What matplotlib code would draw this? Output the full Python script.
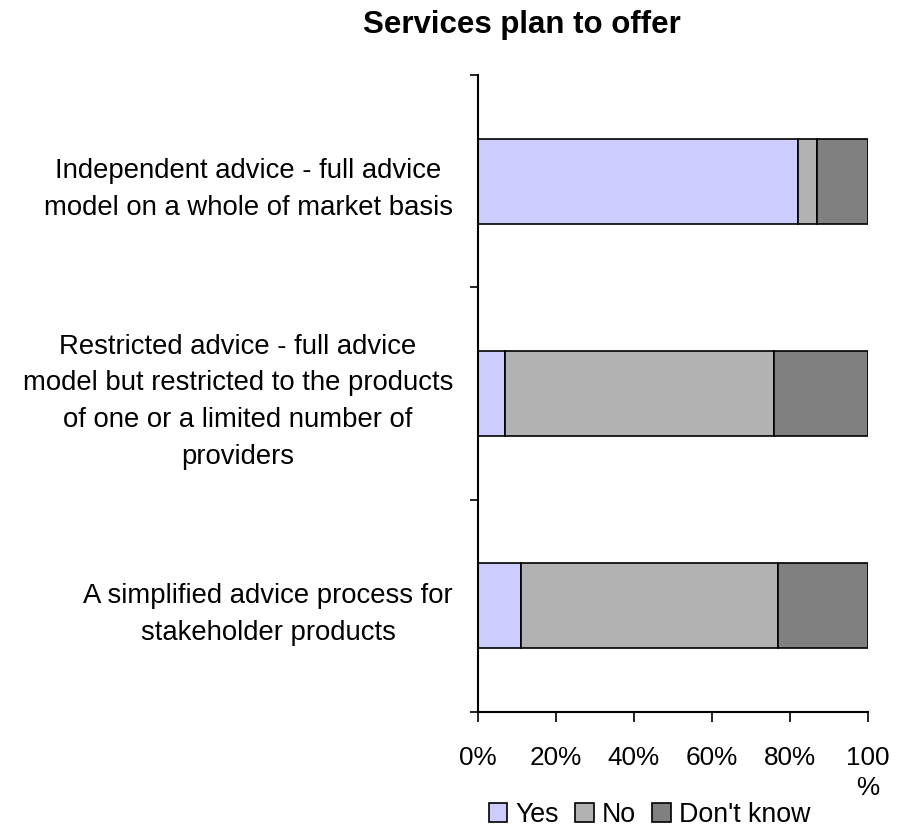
import numpy as np
import matplotlib
matplotlib.use("Agg")
import matplotlib.pyplot as plt

plt.rcParams['font.family'] = ['Liberation Sans', 'DejaVu Sans']

# survey responses, top to bottom
categories = [
    "Independent advice - full advice\nmodel on a whole of market basis",
    "Restricted advice - full advice\nmodel but restricted to the products\nof one or a limited number of\nproviders",
    "A simplified advice process for\nstakeholder products",
]
yes = [82, 7, 11]
no = [5, 69, 66]
dont_know = [13, 24, 23]
series_names = ["Yes", "No", "Don't know"]
colors = ["#ccccff", "#b2b2b2", "#808080"]
xtick_labels = ["0%", "20%", "40%", "60%", "80%", "100\n%"]

fig = plt.figure(figsize=(9.02, 8.31), dpi=100)
ax = fig.add_axes([0.530, 0.143, 0.432, 0.767])

pos = np.arange(len(categories))
left = np.zeros(len(categories))
for vals, name, c in zip([yes, no, dont_know], series_names, colors):
    ax.barh(pos, vals, left=left, height=0.4, color=c, edgecolor='black',
            linewidth=1.2, label=name)
    left += np.array(vals)

ax.set_ylim(len(categories) - 0.5, -0.5)
ax.set_xlim(0, 100)

# category labels between boundary ticks
ax.set_yticks(pos)
ax.set_yticklabels(categories, fontsize=19.8, ha='right', multialignment='center',
                   linespacing=1.54)
ax.tick_params(axis='y', length=0, pad=18)
ax.set_yticks(np.arange(len(categories) + 1) - 0.5, minor=True)
ax.tick_params(axis='y', which='minor', length=6, width=1.2, direction='out')

ax.set_xticks(np.arange(0, 101, 20))
ax.set_xticklabels(xtick_labels, fontsize=18.8, linespacing=1.35)
ax.tick_params(axis='x', length=7, width=1.2, direction='out', pad=17)

for s in ['top', 'right']:
    ax.spines[s].set_visible(False)
for s in ['left', 'bottom']:
    ax.spines[s].set_linewidth(1.5)

fig.text(0.579, 0.97, "Services plan to offer", ha='center', va='center',
         fontsize=22.5, fontweight='bold')

fig.legend(loc='center', bbox_to_anchor=(0.72, 0.019), ncol=3, frameon=False,
           fontsize=19.3, handlelength=0.7, handleheight=0.7, handletextpad=0.3,
           columnspacing=0.6, borderpad=0)

fig.savefig("out.png", dpi=100)
